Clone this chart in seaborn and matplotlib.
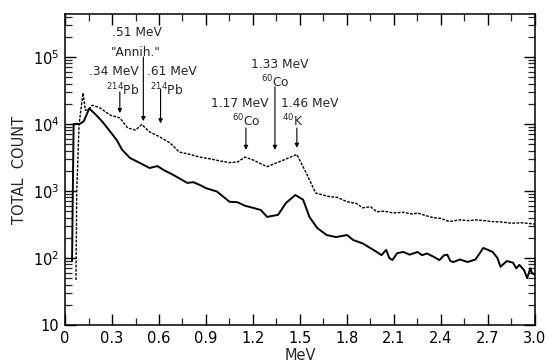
import numpy as np
import pandas as pd
import seaborn as sns
import matplotlib
matplotlib.use("Agg")
import matplotlib.pyplot as plt
from matplotlib.ticker import FixedLocator, NullFormatter, LogLocator

# ---- data ----
dashed_mev = [0.07, 0.075, 0.09, 0.115, 0.13, 0.15, 0.175, 0.22, 0.29, 0.35, 0.40, 0.45,
              0.49, 0.54, 0.60, 0.67, 0.73, 0.80, 0.86, 0.93, 0.99, 1.05, 1.10, 1.15,
              1.20, 1.29, 1.38, 1.48, 1.54, 1.60, 1.68, 1.74, 1.80, 1.86, 1.90, 1.95,
              1.99, 2.04, 2.09, 2.16, 2.22, 2.25, 2.30, 2.35, 2.40, 2.45, 2.52, 2.58,
              2.62, 2.68, 2.72, 2.78, 2.85, 2.92, 3.0]
dashed_cnt = [47, 1000, 10000, 29000, 16000, 16500, 19000, 17500, 13500, 12300, 8700, 8100,
              9800, 7600, 6500, 5200, 3800, 3500, 3200, 3000, 2800, 2650, 2700, 3200,
              2900, 2300, 2800, 3500, 1850, 930, 830, 800, 690, 650, 560, 580,
              490, 500, 470, 480, 450, 470, 430, 400, 390, 350, 370, 360,
              370, 360, 350, 345, 330, 335, 320]

solid_mev = [0.045, 0.05, 0.055, 0.095, 0.12, 0.155, 0.20, 0.24, 0.29, 0.33, 0.365, 0.415,
             0.48, 0.54, 0.59, 0.63, 0.69, 0.78, 0.82, 0.86, 0.90, 0.97, 1.05, 1.10,
             1.15, 1.20, 1.25, 1.29, 1.36, 1.41, 1.47, 1.52, 1.56, 1.61, 1.67, 1.73,
             1.80, 1.84, 1.90, 1.95, 1.99, 2.02, 2.05, 2.07, 2.09, 2.12, 2.16, 2.20,
             2.25, 2.28, 2.31, 2.35, 2.39, 2.42, 2.44, 2.46, 2.48, 2.52, 2.57, 2.62,
             2.67, 2.70, 2.73, 2.76, 2.78, 2.82, 2.86, 2.88, 2.90, 2.93, 2.95, 2.97,
             2.98, 3.0]
solid_cnt = [90, 1000, 10000, 10000, 11000, 17000, 13500, 10700, 7600, 5750, 4100, 3100,
             2600, 2200, 2350, 2050, 1740, 1320, 1350, 1230, 1100, 980, 690, 680,
             600, 560, 520, 410, 440, 660, 870, 740, 410, 280, 220, 205,
             220, 185, 165, 140, 123, 110, 132, 100, 93, 118, 123, 112,
             123, 110, 117, 105, 93, 110, 112, 90, 87, 95, 87, 95,
             141, 132, 123, 100, 74, 90, 85, 70, 79, 66, 50, 70,
             60, 56]

arrow_x = [0.35, 0.50, 0.61, 1.155, 1.34, 1.48]
arrow_start = [30000, 1.0e5, 33000, 8700, 36000, 8700]
arrow_tip = [14500, 11000, 10200, 4100, 4100, 4400]

xticks = [0, 0.3, 0.6, 0.9, 1.2, 1.5, 1.8, 2.1, 2.4, 2.7, 3.0]
xticklabels = ["0", "0.3", "0.6", "0.9", "1.2", "1.5", "1.8", "2.1", "2.4", "2.7", "3.0"]
yticks = [10, 100, 1000, 10000, 100000]
yticklabels = ["10", r"$10^2$", r"$10^3$", r"$10^4$", r"$10^5$"]

# ---- plot ----
sns.set_style("ticks")
plt.rcParams["font.family"] = ["DejaVu Sans"]
plt.rcParams["mathtext.default"] = "regular"

fig = plt.figure(figsize=(5.48, 3.63), dpi=100)
ax = fig.add_axes([65 / 548, 38 / 363, 470 / 548, 311 / 363])

d1 = pd.DataFrame({"MeV": dashed_mev, "count": dashed_cnt})
d2 = pd.DataFrame({"MeV": solid_mev, "count": solid_cnt})
sns.lineplot(data=d1, x="MeV", y="count", ax=ax, color="black", lw=1.0,
             linestyle=(0, (2.0, 1.0)), sort=False, estimator=None)
sns.lineplot(data=d2, x="MeV", y="count", ax=ax, color="black", lw=1.4,
             sort=False, estimator=None)

ax.set_yscale("log")
ax.set_xlim(0, 3.0)
ax.set_ylim(10, 10 ** 5.64)

ax.set_xticks(xticks)
ax.set_xticklabels(xticklabels, fontsize=10.5)
ax.xaxis.set_minor_locator(FixedLocator(np.arange(0.15, 3.0, 0.3)))
ax.set_yticks(yticks)
ax.set_yticklabels(yticklabels, fontsize=10.5)
ax.yaxis.set_minor_locator(LogLocator(base=10, subs=np.arange(2, 10)))
ax.yaxis.set_minor_formatter(NullFormatter())

ax.tick_params(axis="both", which="major", direction="in", top=True, right=True,
               length=8, width=1.0, pad=4, colors="black")
ax.tick_params(axis="both", which="minor", direction="in", top=True, right=True,
               length=5, width=0.9)
for s in ax.spines.values():
    s.set_linewidth(1.1)
    s.set_color("black")

ax.set_xlabel("MeV", fontsize=10.5, labelpad=2)
ax.set_ylabel("TOTAL  COUNT", fontsize=10.5, labelpad=4)

fs = 8.8
def T(x, y, s, ha="center"):
    ax.text(x, y, s, fontsize=fs, ha=ha, va="center")

T(0.31, 10 ** 4.78, ".34 MeV")
T(0.37, 10 ** 4.50, r"$^{214}$Pb")
T(0.46, 10 ** 5.36, ".51 MeV")
T(0.45, 10 ** 5.07, "\"Annih.\"")
T(0.685, 10 ** 4.78, ".61 MeV")
T(0.65, 10 ** 4.50, r"$^{214}$Pb")
T(1.37, 10 ** 4.89, "1.33 MeV")
T(1.34, 10 ** 4.62, r"$^{60}$Co")
T(1.117, 10 ** 4.31, "1.17 MeV")
T(1.16, 10 ** 4.05, r"$^{60}$Co")
T(1.38, 10 ** 4.31, "1.46 MeV", ha="left")
T(1.385, 10 ** 4.05, r"$^{40}$K", ha="left")

for x0, y0, y1 in zip(arrow_x, arrow_start, arrow_tip):
    ax.annotate("", xy=(x0, y1), xytext=(x0, y0),
                arrowprops=dict(arrowstyle="-|>", lw=0.8, color="black",
                                mutation_scale=6, shrinkA=0, shrinkB=0))

fig.savefig("out.png", dpi=100)
